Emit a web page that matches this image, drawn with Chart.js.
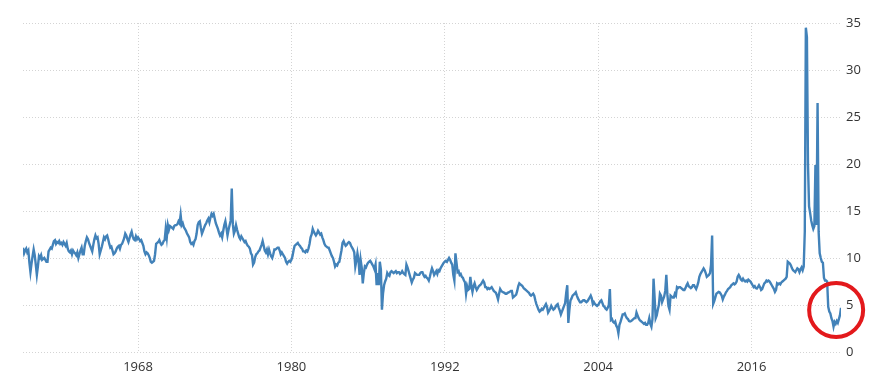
<!DOCTYPE html>
<html><head><meta charset="utf-8">
<script src="https://cdn.jsdelivr.net/npm/chart.js@4/dist/chart.umd.min.js"></script>
<style>html,body{margin:0;padding:0;background:#fff;}#wrap{width:873px;height:387px;position:relative;}</style>
</head><body><div id="wrap"><canvas id="c"></canvas></div>
<script>
// Monthly personal saving rate (%), January 1959 to January 2023
const startYear = 1959;
const rate1959_1967 = [
 11.1,10.5,10.8,11.0,10.6,10.8,9.5,8.5,9.4,10.2,10.9,10.3,
 9.3,8.2,9.1,10.2,10.0,10.3,9.8,9.9,10.0,9.8,9.6,9.6,
 10.7,10.9,11.1,11.0,11.4,11.8,11.9,11.5,11.7,11.6,11.8,11.5,
 11.6,11.4,11.7,11.5,11.3,11.6,11.0,10.7,10.6,10.8,10.4,10.8,
 10.6,10.5,10.3,10.6,10.0,10.4,10.8,11.1,10.4,10.4,11.3,11.8,
 12.2,12.0,11.6,11.3,11.0,10.7,11.4,12.0,12.4,12.1,12.2,11.5,
 10.4,10.8,11.2,11.7,12.2,12.0,12.3,12.4,12.0,11.5,11.1,11.2,
 10.8,10.4,10.5,10.7,11.0,11.2,11.3,11.0,11.4,11.5,11.8,12.1,
 12.6,12.4,12.0,11.7,12.1,12.5,12.8,12.3,12.0,11.9,12.3,12.0
];
const rate1968_1976 = [
 12.2,12.0,11.8,11.9,11.6,11.3,10.7,10.4,10.6,10.5,10.3,10.0,
 9.6,9.5,9.6,9.7,10.4,11.5,11.6,11.7,11.9,11.6,11.4,11.5,
 11.8,11.9,13.1,12.2,13.5,13.0,13.4,13.3,13.2,13.1,13.4,13.5,
 13.5,13.6,13.9,13.7,14.6,13.5,13.7,13.3,13.1,12.9,12.6,12.4,
 12.2,11.7,11.5,11.6,11.4,11.8,12.0,12.6,13.5,13.8,13.9,13.2,
 12.6,12.9,13.2,13.5,13.7,14.0,14.2,13.8,14.3,14.7,14.5,14.7,
 14.2,13.7,13.4,13.1,12.7,12.4,12.6,12.2,12.9,13.5,13.9,13.2,
 12.4,13.0,13.5,14.0,17.4,13.6,12.6,12.9,13.5,13.0,12.6,12.2,
 12.0,12.3,12.1,11.9,11.7,11.8,11.5,11.3,11.2,11.0,10.5,10.3
];
const rate1977_1986 = [
 9.3,9.5,10.1,10.4,10.5,10.7,10.8,11.1,11.4,11.8,11.3,10.8,
 10.6,10.9,10.4,10.9,10.5,10.2,10.0,10.4,10.9,10.9,11.0,11.1,
 11.1,10.8,10.4,10.6,10.4,10.2,10.0,9.6,9.4,9.6,9.7,9.6,
 9.8,10.2,10.8,11.3,11.4,11.5,11.6,11.4,11.3,11.1,11.0,10.7,
 10.7,10.6,10.8,10.7,11.0,11.5,12.2,12.5,13.1,12.8,12.6,12.4,
 12.6,12.9,12.7,12.5,12.6,12.2,11.9,11.5,11.3,11.2,11.1,11.1,
 10.8,10.5,10.2,10.0,9.6,9.1,9.3,9.2,9.5,9.6,10.2,10.8,
 11.6,11.8,11.5,11.3,11.4,11.6,11.7,11.6,11.3,11.1,10.9,10.6,
 9.1,9.7,10.5,9.8,8.2,9.8,9.0,7.3,8.4,9.1,9.0,9.3,
 9.5,9.6,9.7,9.5,9.3,9.1,8.8,9.3,7.1,8.4,7.1,9.6
];
const rate1987_1996 = [
 8.8,4.5,6.2,7.1,7.5,7.8,8.4,8.2,8.1,8.5,8.6,8.5,
 8.4,8.5,8.6,8.4,8.5,8.5,8.3,8.4,8.6,8.4,8.3,8.2,
 9.3,9.0,8.6,8.2,7.8,7.4,7.7,7.9,8.4,8.3,8.2,8.2,
 8.2,8.4,8.5,8.5,8.2,8.0,8.1,7.9,7.8,7.6,8.0,8.5,
 8.9,8.6,8.2,8.4,8.6,8.3,8.7,8.6,8.9,9.1,9.3,9.5,
 9.6,9.7,9.6,9.8,10.0,9.8,9.5,9.3,8.2,7.6,10.5,9.5,
 8.5,8.6,8.2,8.3,8.0,7.9,7.6,7.4,6.2,7.0,6.6,6.7,
 8.0,7.0,6.4,7.0,7.3,6.9,6.6,6.8,7.0,7.1,7.2,7.4,
 7.6,7.4,6.9,6.9,6.7,6.8,6.7,6.8,6.9,6.7,6.5,6.4,
 6.3,6.0,5.6,6.2,6.7,6.5,6.4,6.35,6.3,6.2,6.2,6.3
];
const rate1997_2006 = [
 6.35,6.4,6.5,6.5,5.8,5.9,6.0,6.1,6.5,7.0,7.3,7.2,
 7.1,7.0,6.8,6.7,6.6,6.5,6.4,6.3,6.1,6.0,6.1,6.2,
 6.0,5.5,5.1,4.8,4.5,4.3,4.4,4.6,4.5,4.7,4.9,5.1,
 4.8,4.2,4.4,4.6,4.9,4.7,4.5,4.6,4.8,5.0,5.1,4.7,
 4.4,4.0,4.3,4.6,4.9,5.2,6.3,7.1,3.1,4.5,5.5,5.7,
 6.0,6.1,6.2,6.35,6.0,5.7,5.5,5.3,5.3,5.4,5.5,5.5,
 5.4,5.3,5.4,5.6,5.8,6.0,5.7,5.1,5.3,5.1,5.0,4.9,
 5.0,5.2,5.4,5.5,5.2,4.9,4.8,4.6,4.5,4.7,5.0,6.7,
 3.4,3.5,3.2,3.1,3.25,2.8,2.6,2.0,2.9,3.2,3.6,4.0,
 4.0,4.1,3.8,3.6,3.5,3.3,3.25,3.3,3.4,3.5,3.6,3.6
];
const rate2007_2016 = [
 4.2,3.9,3.6,3.4,3.3,3.2,3.1,3.0,3.1,2.9,2.9,3.1,
 3.6,3.0,2.7,3.5,7.8,5.8,3.6,3.9,4.5,5.0,6.2,6.0,
 5.3,5.6,5.9,6.5,8.2,6.1,4.9,4.5,6.0,5.9,5.8,5.8,
 6.2,6.0,6.9,6.8,6.9,6.9,6.8,6.7,6.6,6.6,6.8,7.1,
 7.3,7.0,6.9,6.8,6.9,7.1,7.1,6.9,6.7,7.0,7.4,8.0,
 8.3,8.5,8.7,8.9,8.7,8.4,8.0,8.1,8.2,8.4,9.3,12.4,
 5.1,5.4,5.8,6.2,6.3,6.4,6.35,6.2,6.0,5.6,5.9,6.1,
 6.35,6.5,6.7,6.8,6.9,7.1,7.2,7.3,7.2,7.3,7.5,8.0,
 8.2,8.0,7.7,7.6,7.8,7.6,7.5,7.6,7.5,7.7,7.6,7.5,
 7.3,7.1,6.9,7.0,6.8,6.75,6.9,7.1,6.9,6.6,6.7,7.0
];
const rate2017_2023 = [
 7.3,7.4,7.6,7.5,7.6,7.5,7.3,7.1,6.9,6.7,6.4,6.6,
 7.3,7.2,7.3,7.2,7.4,7.5,7.6,7.7,7.8,8.0,9.6,9.5,
 9.4,9.2,8.9,8.7,8.6,8.5,8.7,8.9,8.8,8.5,8.8,9.0,
 8.7,9.1,12.8,34.5,33.5,20.0,15.5,14.8,14.0,13.5,13.1,13.4,
 19.9,13.5,26.5,12.8,10.5,10.0,9.6,9.5,7.9,7.6,7.6,7.5,
 4.8,4.3,4.1,3.6,3.3,2.7,3.2,3.0,3.3,3.1,3.5,3.9,
 4.7
];
const savingRate = [].concat(rate1959_1967, rate1968_1976, rate1977_1986, rate1987_1996,
                             rate1997_2006, rate2007_2016, rate2017_2023);
const xTickYears = [1968, 1980, 1992, 2004, 2016];
const yTickStep = 5;
const yMin = 0, yMax = 35;
// highlighted region (data coordinates) marked by the red ring
const highlight = { year: 2022.62, value: 4.47 };

const points = savingRate.map((v, i) => ({ x: startYear + i / 12, y: v }));
const lastX = startYear + (savingRate.length - 1) / 12;

const tickFont = { family: "'Open Sans', 'Liberation Sans', sans-serif", size: 13 };
const tickColor = '#333333';
const gridColor = '#d4d4d4';

const ringPlugin = {
  id: 'ring',
  afterDraw(chart) {
    const { ctx, scales } = chart;
    const cx = scales.x.getPixelForValue(highlight.year);
    const cy = scales.y.getPixelForValue(highlight.value);
    ctx.save();
    ctx.beginPath();
    ctx.arc(cx, cy, 27, 0, Math.PI * 2);
    ctx.lineWidth = 4;
    ctx.strokeStyle = '#e3191c';
    ctx.stroke();
    ctx.restore();
  }
};

new Chart(document.getElementById('c'), {
  type: 'line',
  data: { datasets: [{
    data: points,
    borderColor: 'rgb(66,130,185)',
    borderWidth: 2.4,
    pointRadius: 0,
    tension: 0,
    fill: false
  }]},
  options: {
    responsive: true,
    maintainAspectRatio: false,
    animation: false,
    layout: { padding: { left: 23, top: 23, right: 0, bottom: 0 } },
    plugins: { legend: { display: false }, tooltip: { enabled: false } },
    scales: {
      x: {
        type: 'linear',
        min: startYear,
        max: lastX,
        afterBuildTicks: s => { s.ticks = xTickYears.map(v => ({ value: v })); },
        afterFit: s => { s.height = 35; },
        ticks: { font: tickFont, color: tickColor, padding: 7, maxRotation: 0, autoSkip: false,
                 callback: v => String(v) },
        grid: { color: gridColor, drawTicks: false, lineWidth: 1 },
        border: { display: false, dash: [1, 2] }
      },
      y: {
        position: 'right',
        min: yMin,
        max: yMax,
        afterFit: s => { s.width = 32; },
        ticks: { stepSize: yTickStep, font: tickFont, color: tickColor, padding: 5 },
        grid: { color: gridColor, drawTicks: false, lineWidth: 1 },
        border: { display: false, dash: [1, 2] }
      }
    }
  },
  plugins: [ringPlugin]
});
</script>
</body></html>
